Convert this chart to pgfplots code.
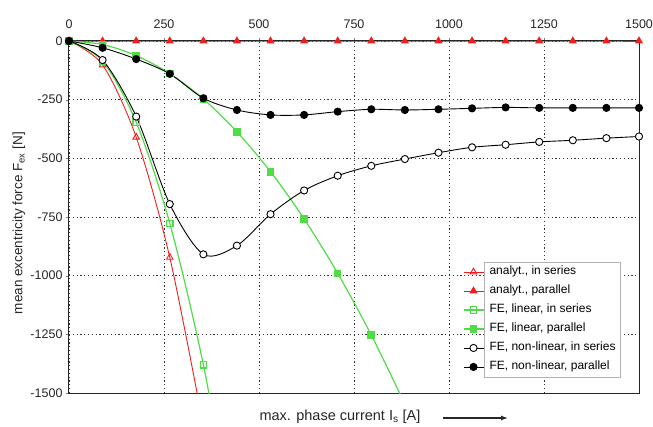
\documentclass[border=0pt]{standalone}
\usepackage{fontspec}
\setmainfont{Liberation Sans}
\usepackage{pgfplots}
\pgfplotsset{compat=1.18}
\usetikzlibrary{arrows.meta}
\definecolor{fegreen}{RGB}{80,220,70}
\definecolor{anred}{RGB}{240,30,30}

\begin{document}
\begin{tikzpicture}
\useasboundingbox (-69pt,-33pt) rectangle (584pt,393pt);
\begin{axis}[
    name=ax, at={(0,0)}, anchor=south west,
    scale only axis, width=570pt, height=352pt,
    xmin=0, xmax=1500, ymin=-1500, ymax=0,
    xtick={0,250,...,1500}, ytick={-1500,-1250,...,0},
    xtick pos=right, xticklabel pos=right, ytick pos=left,
    tick align=outside, major tick length=3pt,
    xticklabel style={yshift=6pt},
    tick label style={font=\fontsize{12.5}{14}\selectfont, text=black!85},
    /pgf/number format/assume math mode=true,
    /pgf/number format/1000 sep={},
    grid=major, grid style={black!80, line width=0.9pt, dash pattern=on 1.2pt off 2.6pt},
    axis line style={black!85, line width=1pt},
    xlabel={max. phase current I\textsubscript{s} [A]},
    xlabel style={at={(axis description cs:0.4754,0)}, anchor=center, yshift=-24pt,
      font=\fontsize{14.5}{16}\selectfont, text=black!85},
    ylabel={mean excentricity force F\textsubscript{ex} [N]},
    ylabel style={at={(axis description cs:-0.0877,0.483)}, anchor=center,
      font=\fontsize{13.5}{16}\selectfont, text=black!85},
    legend style={at={(axis description cs:0.968,0.045)}, anchor=south east,
      draw=black!30, fill=white, inner xsep=3pt, inner ysep=2pt, row sep=3pt,
      nodes={inner sep=2pt, text height=9pt, text depth=3pt},
      font=\fontsize{12}{13}\selectfont},
    legend cell align=left,
    legend image code/.code={
      \draw[overlay,#1,mark indices={2}] plot coordinates {(-24pt,0pt) (-14pt,0pt) (-4pt,0pt)};
    },
  ]
  % analytical, in series
  \addplot[anred, line width=0.9pt, smooth, mark=triangle, mark size=3.8pt,
    mark options={solid, fill=white}, mark indices={1,2,3,4}]
    coordinates {(0,0) (88.4,-102) (176.8,-410) (265.2,-922) (353.6,-1640)};
  \addlegendentry{analyt., in series}
  % analytical, parallel
  \addplot[anred, line width=0.9pt, mark=triangle*, mark size=3.8pt, mark options={solid}]
    coordinates {(0,0) (88.4,0) (176.8,0) (265.2,0) (353.6,0) (441.9,0) (530.3,0)
      (618.7,0) (707.1,0) (795.5,0) (883.9,0) (972.3,0) (1060.7,0) (1149,0)
      (1237.4,0) (1325.8,0) (1414.2,0) (1500,0)};
  \addlegendentry{analyt., parallel}
  % FE linear, in series
  \addplot[fegreen, line width=1.2pt, smooth, mark=square, mark size=3.2pt,
    mark options={solid, fill=white}, mark indices={1,2,3,4,5}]
    coordinates {(0,0) (88.4,-86) (176.8,-346) (265.2,-777) (353.6,-1380) (441.9,-2158)};
  \addlegendentry{FE, linear, in series}
  % FE linear, parallel
  \addplot[fegreen, line width=1.2pt, smooth, mark=square*, mark size=3.2pt,
    mark options={solid}, mark indices={1,2,3,4,5,6,7,8,9,10}]
    coordinates {(0,0) (88.4,-15) (176.8,-62) (265.2,-139) (353.6,-247) (441.9,-387)
      (530.3,-557) (618.7,-758) (707.1,-990) (795.5,-1253) (883.9,-1547)};
  \addlegendentry{FE, linear, parallel}
  % FE non-linear, in series
  \addplot[black, line width=0.9pt, smooth, mark=*, mark size=3.6pt,
    mark options={solid, fill=white}]
    coordinates {(0,0) (88.4,-81) (176.8,-322) (265.2,-695) (353.6,-909) (441.9,-872)
      (530.3,-738) (618.7,-637) (707.1,-574) (795.5,-532) (883.9,-503) (972.3,-476)
      (1060.7,-453) (1149,-442) (1237.4,-430) (1325.8,-423) (1414.2,-414) (1500,-407)};
  \addlegendentry{FE, non-linear, in series}
  % FE non-linear, parallel
  \addplot[black, line width=0.9pt, smooth, mark=*, mark size=3.6pt, mark options={solid}]
    coordinates {(0,0) (88.4,-29) (176.8,-77) (265.2,-140) (353.6,-244) (441.9,-294)
      (530.3,-315) (618.7,-315) (707.1,-301) (795.5,-291) (883.9,-294) (972.3,-291)
      (1060.7,-287) (1149,-283) (1237.4,-285) (1325.8,-285) (1414.2,-285) (1500,-285)};
  \addlegendentry{FE, non-linear, parallel}
\end{axis}
\draw[-{Latex[length=7pt,width=5pt]}, line width=1.3pt, black!85] (374pt,-25pt) -- (439pt,-25pt);
\end{tikzpicture}
\end{document}
